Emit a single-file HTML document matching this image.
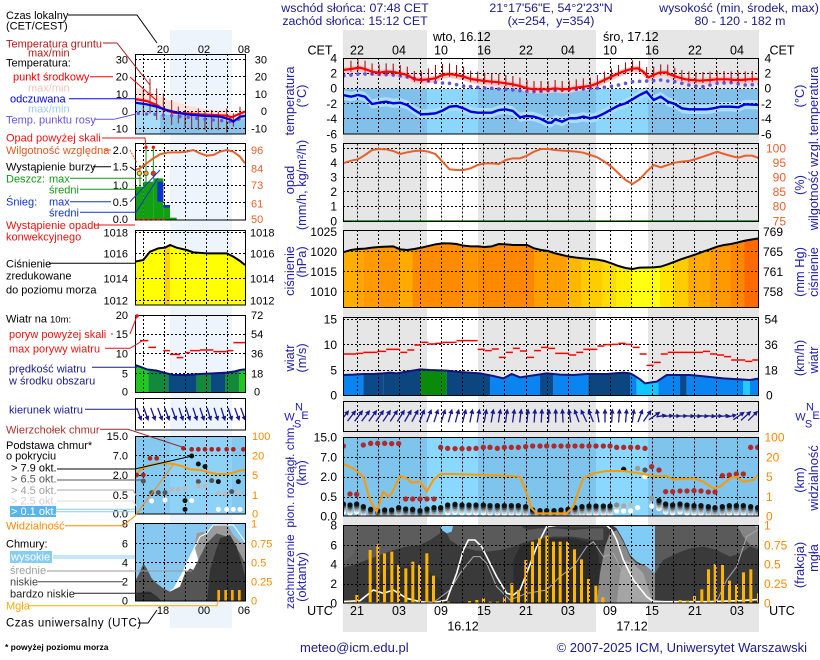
<!DOCTYPE html>
<html><head><meta charset="utf-8">
<style>
html,body{margin:0;padding:0;background:#fff;}
svg{display:block;font-family:"Liberation Sans",Arial,sans-serif;}
.z *{vector-effect:non-scaling-stroke;}
.g{stroke:#000;stroke-width:1;stroke-dasharray:2 2;fill:none;}
.t{font-size:12px;fill:#000;}
.ti{font-size:12.8px;fill:#2020b0;}
.l{font-size:11px;}
.m{font-size:11px;fill:#000;}
</style></head><body>
<svg width="820" height="660" viewBox="0 0 820 660">
<defs>
<path id="v76" d="M357.5,0v76M378.5,0v76M399.5,0v76M420.5,0v76M441.5,0v76M462.5,0v76M483.5,0v76M504.5,0v76M526.5,0v76M547.5,0v76M568.5,0v76M589.5,0v76M610.5,0v76M631.5,0v76M652.5,0v76M673.5,0v76M694.5,0v76M716.5,0v76M737.5,0v76"/>
<path id="v78" d="M357.5,0v78M378.5,0v78M399.5,0v78M420.5,0v78M441.5,0v78M462.5,0v78M483.5,0v78M504.5,0v78M526.5,0v78M547.5,0v78M568.5,0v78M589.5,0v78M610.5,0v78M631.5,0v78M652.5,0v78M673.5,0v78M694.5,0v78M716.5,0v78M737.5,0v78"/>
<path id="v30" d="M357.5,0v30M378.5,0v30M399.5,0v30M420.5,0v30M441.5,0v30M462.5,0v30M483.5,0v30M504.5,0v30M526.5,0v30M547.5,0v30M568.5,0v30M589.5,0v30M610.5,0v30M631.5,0v30M652.5,0v30M673.5,0v30M694.5,0v30M716.5,0v30M737.5,0v30"/>
<path id="mv80" d="M143.5,0v80M164.5,0v80M185.5,0v80M206.5,0v80M227.5,0v80"/>
<path id="mv32" d="M143.5,0v32M164.5,0v32M185.5,0v32M206.5,0v32M227.5,0v32"/>
<g id="ar"><path d="M0,6.5V-4" stroke="#1a1a90" stroke-width="1.3" fill="none"/><path d="M0,-7.5L-2.5,-2.5L2.5,-2.5Z" fill="#1a1a90"/></g>
<g id="ars"><path d="M0,5V-2.5" stroke="#1a1a90" stroke-width="1.3" fill="none"/><path d="M0,-5.5L-2.3,-1L2.3,-1Z" fill="#1a1a90"/></g>
<g id="cl"><circle cy="24" r="8" fill="#fff"/><circle cy="18" r="8" fill="#ccc"/><circle cy="12" r="8" fill="#999"/><circle cy="6" r="8" fill="#555"/><circle cy="0" r="8" fill="#111"/></g>
<circle id="rd" r="8" fill="#b02a2a"/>
<ellipse id="dp" rx="5.1" ry="5.4" fill="#6655dd"/>
<clipPath id="cT"><rect x="343" y="58" width="416" height="76"/></clipPath>
<clipPath id="cP"><rect x="343" y="143" width="416" height="79"/></clipPath>
<clipPath id="cPr"><rect x="343" y="230" width="416" height="78"/></clipPath>
<clipPath id="cW"><rect x="343" y="317" width="416" height="79"/></clipPath>
<clipPath id="cD"><rect x="343" y="401" width="416" height="31"/></clipPath>
<clipPath id="cB"><rect x="343" y="437" width="416" height="79"/></clipPath>
<clipPath id="cC"><rect x="343" y="525" width="416" height="78"/></clipPath>
<clipPath id="mT"><rect x="135" y="54" width="110" height="80"/></clipPath>
<clipPath id="mP"><rect x="135" y="143" width="110" height="77"/></clipPath>
<clipPath id="mPr"><rect x="135" y="230" width="110" height="75"/></clipPath>
<clipPath id="mW"><rect x="135" y="315" width="110" height="78"/></clipPath>
<clipPath id="mB"><rect x="135" y="436" width="110" height="78"/></clipPath>
<clipPath id="mC"><rect x="135" y="523" width="110" height="78"/></clipPath>
<clipPath id="pp"><polygon points="207,352 230,345 250,342 270,341 290,338 310,336 350,334 370,343 390,345 410,342 430,338 470,328 490,325 510,325 530,327 550,332 570,334 590,334 610,336 630,334 650,327 670,328 690,330 730,330 750,340 770,345 790,348 810,355 830,360 850,365 870,368 890,370 910,372 930,374 950,378 970,385 990,393 1010,399 1030,402 1050,398 1090,397 1110,395 1130,388 1150,380 1170,372 1190,365 1210,358 1230,350 1250,343 1270,335 1290,330 1310,327 1330,322 1350,317 1370,313 1390,310 1390,520 207,520"/></clipPath>
<clipPath id="wp"><polygon points="0,45 10,45 40,44 70,42 100,42 130,40 150,38 170,40 200,35 240,28 270,30 320,32 360,36 420,40 460,48 490,55 515,42 540,52 580,46 620,40 660,44 700,45 740,42 800,42 850,38 870,40 880,45 900,58 915,70 950,65 980,45 1020,45 1050,45 1100,50 1150,55 1200,58 1230,60 1260,55 1260,110 0,110"/></clipPath>
<clipPath id="mwp"><polygon points="405,165 420,170 440,178 470,182 500,190 520,195 560,195 600,192 640,190 680,188 700,185 720,180 735,178 735,250 405,250"/></clipPath>
</defs>

<rect width="820" height="660" fill="#fff"/>
<!-- day/night bands -->
<rect x="343" y="30" width="84" height="602" fill="#e6e6e6"/>
<rect x="478" y="30" width="118" height="602" fill="#e6e6e6"/>
<rect x="648" y="30" width="111" height="602" fill="#e6e6e6"/>
<rect x="170" y="30" width="62" height="598" fill="#eef4fc"/>

<!-- header -->
<g font-size="12.4" fill="#1a1a8a" text-anchor="middle">
<text x="355" y="12">wschód słońca: 07:48 CET</text>
<text x="355" y="25">zachód słońca: 15:12 CET</text>
<text x="551" y="12">21°17'56"E, 54°2'23"N</text>
<text x="551" y="25">(x=254,&#160; y=354)</text>
<text x="739" y="12">wysokość (min, środek, max)</text>
<text x="740" y="25">80 - 120 - 182 m</text>
</g>
<g font-size="12.5" fill="#000">
<text x="433" y="41">wto, 16.12</text>
<text x="603" y="41">śro, 17.12</text>
</g>
<g font-size="12.5" fill="#000" text-anchor="middle">
<text x="320" y="54.5">CET</text><text x="782" y="54.5">CET</text>
<text x="357" y="54.5">22</text><text x="399" y="54.5">04</text><text x="441" y="54.5">10</text><text x="484" y="54.5">16</text><text x="526" y="54.5">22</text><text x="568" y="54.5">04</text><text x="610" y="54.5">10</text><text x="652" y="54.5">16</text><text x="695" y="54.5">22</text><text x="737" y="54.5">04</text>
<text x="320" y="615">UTC</text><text x="782" y="615">UTC</text>
<text x="357" y="615">21</text><text x="399" y="615">03</text><text x="441" y="615">09</text><text x="484" y="615">15</text><text x="526" y="615">21</text><text x="568" y="615">03</text><text x="610" y="615">09</text><text x="652" y="615">15</text><text x="695" y="615">21</text><text x="737" y="615">03</text>
<text x="463" y="630.5">16.12</text><text x="632" y="630.5">17.12</text>
</g>

<!-- ===== MAIN TEMPERATURE ===== -->
<g clip-path="url(#cT)">
<rect x="343" y="89" width="84" height="46" fill="#80c0ea"/>
<rect x="427" y="89" width="51" height="46" fill="#8ad6fc"/>
<rect x="478" y="89" width="118" height="46" fill="#80c0ea"/>
<rect x="596" y="89" width="52" height="46" fill="#8ad6fc"/>
<rect x="648" y="89" width="111" height="46" fill="#80c0ea"/>
<g class="z" transform="translate(270,0) scale(0.352,0.33333)">
<polygon fill="#f8c6c6" points="207,202 230,199 255,195 270,199 290,207 310,210 330,207 350,208 370,212 390,217 410,230 430,232 450,230 470,227 490,217 510,214 530,217 550,222 570,229 590,232 610,235 630,237 650,239 670,242 690,245 710,250 730,257 750,260 770,260 790,260 810,257 830,260 850,259 870,255 890,252 910,250 930,242 950,232 970,222 990,212 1010,204 1030,198 1045,197 1060,207 1075,224 1090,217 1105,210 1125,209 1140,217 1160,224 1180,230 1200,232 1220,234 1250,232 1270,230 1300,230 1320,232 1340,232 1360,230 1390,229 1390,249 1360,250 1340,252 1320,252 1300,250 1270,250 1250,252 1220,254 1200,252 1180,250 1160,244 1140,237 1125,229 1105,230 1090,237 1075,244 1060,227 1045,217 1030,218 1010,224 990,232 970,242 950,252 930,262 910,270 890,272 870,275 850,279 830,280 810,277 790,280 770,280 750,280 730,277 710,270 690,265 670,262 650,259 630,257 610,255 590,252 570,249 550,242 530,237 510,234 490,237 470,247 450,250 430,252 410,250 390,237 370,232 350,228 330,227 310,230 290,227 270,219 255,215 230,219 207,222"/>
<polygon fill="#a9defc" points="207,271 230,276 250,271 270,276 290,298 310,294 330,291 350,296 370,294 390,301 410,316 430,329 450,328 470,326 490,318 510,306 530,304 550,311 570,321 590,324 610,324 630,324 650,316 670,314 690,319 710,338 730,334 750,336 770,343 790,354 800,354 810,344 830,351 850,341 870,341 890,336 910,341 930,336 950,326 970,314 990,303 1010,296 1030,284 1050,271 1070,261 1090,286 1110,276 1130,291 1150,298 1170,311 1190,314 1210,314 1240,314 1260,311 1280,306 1310,306 1330,308 1350,299 1390,301 1390,329 1350,327 1330,336 1310,334 1280,334 1260,339 1240,342 1210,342 1190,342 1170,339 1150,326 1130,319 1110,304 1090,314 1070,289 1050,299 1030,312 1010,324 990,331 970,342 950,354 930,364 910,369 890,364 870,369 850,369 830,379 810,372 800,382 790,382 770,371 750,364 730,362 710,366 690,347 670,342 650,344 630,352 610,352 590,352 570,349 550,339 530,332 510,334 490,346 470,354 450,356 430,357 410,344 390,329 370,322 350,324 330,319 310,322 290,326 270,304 250,299 230,304 207,299"/>
</g>
<use href="#v76" y="58" class="g"/>
<path class="g" d="M343,73.5H759M343,88.5H759M343,103.5H759M343,118.5H759"/>
<g class="z" transform="translate(270,0) scale(0.352,0.33333)">
<use href="#dp" x="210" y="227"/><use href="#dp" x="230" y="225"/><use href="#dp" x="250" y="222"/><use href="#dp" x="270" y="222"/><use href="#dp" x="290" y="222"/><use href="#dp" x="310" y="223"/><use href="#dp" x="330" y="224"/><use href="#dp" x="350" y="225"/><use href="#dp" x="370" y="228"/><use href="#dp" x="390" y="231"/><use href="#dp" x="410" y="235"/><use href="#dp" x="430" y="240"/><use href="#dp" x="450" y="243"/><use href="#dp" x="470" y="247"/><use href="#dp" x="490" y="249"/><use href="#dp" x="510" y="250"/><use href="#dp" x="530" y="254"/><use href="#dp" x="550" y="258"/><use href="#dp" x="570" y="260"/><use href="#dp" x="590" y="262"/><use href="#dp" x="610" y="264"/><use href="#dp" x="630" y="265"/><use href="#dp" x="650" y="267"/><use href="#dp" x="670" y="268"/><use href="#dp" x="690" y="270"/><use href="#dp" x="710" y="272"/><use href="#dp" x="730" y="274"/><use href="#dp" x="750" y="275"/><use href="#dp" x="770" y="274"/><use href="#dp" x="790" y="272"/><use href="#dp" x="810" y="271"/><use href="#dp" x="830" y="270"/><use href="#dp" x="850" y="269"/><use href="#dp" x="870" y="268"/><use href="#dp" x="890" y="267"/><use href="#dp" x="910" y="265"/><use href="#dp" x="930" y="264"/><use href="#dp" x="950" y="262"/><use href="#dp" x="970" y="259"/><use href="#dp" x="990" y="255"/><use href="#dp" x="1010" y="250"/><use href="#dp" x="1030" y="245"/><use href="#dp" x="1050" y="244"/><use href="#dp" x="1070" y="243"/><use href="#dp" x="1090" y="242"/><use href="#dp" x="1110" y="240"/><use href="#dp" x="1130" y="243"/><use href="#dp" x="1150" y="245"/><use href="#dp" x="1170" y="250"/><use href="#dp" x="1190" y="255"/><use href="#dp" x="1210" y="258"/><use href="#dp" x="1230" y="260"/><use href="#dp" x="1250" y="255"/><use href="#dp" x="1270" y="250"/><use href="#dp" x="1290" y="249"/><use href="#dp" x="1310" y="248"/><use href="#dp" x="1330" y="252"/><use href="#dp" x="1350" y="255"/><use href="#dp" x="1370" y="254"/><use href="#dp" x="1390" y="252"/>
<path fill="none" stroke="#a00000" stroke-width="1" d="M230,182V215M250,179V212M270,182V215M290,190V223M310,193V226M330,190V223M350,191V224M370,195V228M390,200V233M410,213V246M430,215V248M450,205V246M470,195V243M490,192V233M510,190V230M530,195V233M550,200V238M570,212V245M590,215V248M610,218V251M630,220V253M650,222V255M670,225V258M690,228V261M710,233V266M730,240V273M750,243V276M770,243V276M790,243V276M810,240V273M830,243V276M850,242V275M870,238V271M890,235V268M910,233V266M930,225V258M950,215V248M970,205V238M990,195V228M1010,187V220M1030,181V214M1050,183V216M1070,201V234M1090,200V233M1110,193V226M1130,194V227M1150,203V236M1170,210V243M1190,214V247M1210,216V249M1230,216V249M1250,215V248M1270,213V246M1290,213V246M1310,214V247M1330,215V248M1350,214V247M1370,213V246"/>
<polyline fill="none" stroke="#ff0000" stroke-width="2.2" points="207,210 230,207 255,203 270,207 290,215 310,218 330,215 350,216 370,220 390,225 410,238 430,240 450,238 470,235 490,225 510,222 530,225 550,230 570,237 590,240 610,243 630,245 650,247 670,250 690,253 710,258 730,265 750,268 770,268 790,268 810,265 830,268 850,267 870,263 890,260 910,258 930,250 950,240 970,230 990,220 1010,212 1030,206 1045,205 1060,215 1075,232 1090,225 1105,218 1125,217 1140,225 1160,232 1180,238 1200,240 1220,242 1250,240 1270,238 1300,238 1320,240 1340,240 1360,238 1390,237"/>
<polyline fill="none" stroke="#0000dd" stroke-width="2.4" points="207,285 230,290 250,285 270,290 290,312 310,308 330,305 350,310 370,308 390,315 410,330 430,343 450,342 470,340 490,332 510,320 530,318 550,325 570,335 590,338 610,338 630,338 650,330 670,328 690,333 710,352 730,348 750,350 770,357 790,368 800,368 810,358 830,365 850,355 870,355 890,350 910,355 930,350 950,340 970,328 990,317 1010,310 1030,298 1050,285 1070,275 1090,300 1110,290 1130,305 1150,312 1170,325 1190,328 1210,328 1240,328 1260,325 1280,320 1310,320 1330,322 1350,313 1390,315"/>
</g>
</g>
<rect x="343.5" y="58.5" width="415" height="75.5" fill="none" stroke="#000"/>
<g class="t" text-anchor="end">
<text x="337" y="62.3">4</text><text x="337" y="77.5">2</text><text x="337" y="92.7">0</text><text x="337" y="107.9">-2</text><text x="337" y="123.1">-4</text><text x="337" y="138.3">-6</text>
</g>
<g class="t">
<text x="764.5" y="62.3">4</text><text x="764.5" y="77.5">2</text><text x="764.5" y="92.7">0</text><text x="761" y="107.9">-2</text><text x="761" y="123.1">-4</text><text x="761" y="138.3">-6</text>
</g>

<!-- ===== PRECIP / RH ===== -->
<g clip-path="url(#cP)">
<use href="#v78" y="143.5" class="g"/>
<path class="g" d="M343,148.5H759M343,162.5H759M343,177.5H759M343,191.5H759M343,206.5H759"/>
<g class="z" transform="translate(270,135) scale(0.352,0.33333)">
<polyline fill="none" stroke="#e8602c" stroke-width="2" points="207,85 230,77 250,73 270,60 290,45 310,42 330,43 350,48 370,57 390,52 410,48 430,47 450,50 470,57 490,80 510,103 530,105 550,105 570,100 590,90 610,85 630,85 650,87 670,75 690,70 710,70 730,62 750,50 770,42 790,42 810,45 830,47 850,48 870,50 890,53 910,60 930,67 950,80 970,95 990,115 1010,135 1030,147 1050,133 1070,110 1090,90 1110,97 1130,90 1150,83 1170,80 1190,78 1210,72 1230,65 1250,58 1270,50 1290,57 1310,63 1330,68 1350,62 1370,62 1390,70"/>
</g>
</g>
<line x1="343" y1="221" x2="759" y2="221" stroke="#0a8a0a" stroke-width="1.5"/>
<rect x="343.5" y="143.5" width="415" height="78" fill="none" stroke="#000"/>
<g class="t" text-anchor="end">
<text x="337" y="152.3">5</text><text x="337" y="166.9">4</text><text x="337" y="181.5">3</text><text x="337" y="196.1">2</text><text x="337" y="210.7">1</text><text x="337" y="225.3">0</text>
</g>
<g class="t" text-anchor="end" style="fill:#e8602c">
<text x="786" y="152.3">100</text><text x="786" y="166.9">95</text><text x="786" y="181.5">90</text><text x="786" y="196.1">85</text><text x="786" y="210.7">80</text><text x="786" y="225.3">75</text>
</g>

<!-- ===== PRESSURE ===== -->
<g clip-path="url(#cPr)">
<g transform="translate(270,135) scale(0.352,0.33333)">
<g clip-path="url(#pp)">
<rect x="207" y="300" width="38" height="230" fill="#ffae00"/>
<rect x="245" y="300" width="20" height="230" fill="#ffa400"/>
<rect x="265" y="300" width="40" height="230" fill="#ff9a00"/>
<rect x="305" y="300" width="60" height="230" fill="#ff9600"/>
<rect x="365" y="300" width="40" height="230" fill="#ffaa00"/>
<rect x="405" y="300" width="140" height="230" fill="#ff8c00"/>
<rect x="545" y="300" width="45" height="230" fill="#ff9600"/>
<rect x="590" y="300" width="75" height="230" fill="#ff8a00"/>
<rect x="665" y="300" width="85" height="230" fill="#ff8800"/>
<rect x="750" y="300" width="95" height="230" fill="#ffa000"/>
<rect x="845" y="300" width="40" height="230" fill="#ffb800"/>
<rect x="885" y="300" width="60" height="230" fill="#ffcc00"/>
<rect x="945" y="300" width="40" height="230" fill="#ffdd00"/>
<rect x="985" y="300" width="45" height="230" fill="#ffee00"/>
<rect x="1030" y="300" width="78" height="230" fill="#ffff10"/>
<rect x="1108" y="300" width="40" height="230" fill="#ffe400"/>
<rect x="1148" y="300" width="40" height="230" fill="#ffcc00"/>
<rect x="1188" y="300" width="60" height="230" fill="#ffaa00"/>
<rect x="1248" y="300" width="60" height="230" fill="#ff9900"/>
<rect x="1308" y="300" width="40" height="230" fill="#ff8800"/>
<rect x="1348" y="300" width="42" height="230" fill="#ff6a00"/>
</g>
</g>
<use href="#v78" y="230" class="g"/>
<path class="g" d="M343,251.5H759M343,271.5H759M343,291.5H759"/>
<g class="z" transform="translate(270,135) scale(0.352,0.33333)">
<polyline fill="none" stroke="#000" stroke-width="2" points="207,352 230,345 250,342 270,341 290,338 310,336 350,334 370,343 390,345 410,342 430,338 470,328 490,325 510,325 530,327 550,332 570,334 590,334 610,336 630,334 650,327 670,328 690,330 730,330 750,340 770,345 790,348 810,355 830,360 850,365 870,368 890,370 910,372 930,374 950,378 970,385 990,393 1010,399 1030,402 1050,398 1090,397 1110,395 1130,388 1150,380 1170,372 1190,365 1210,358 1230,350 1250,343 1270,335 1290,330 1310,327 1330,322 1350,317 1370,313 1390,310"/>
</g>
</g>
<rect x="343.5" y="230.5" width="415" height="77" fill="none" stroke="#000"/>
<g class="t" text-anchor="end">
<text x="337" y="236">1025</text><text x="337" y="256">1020</text><text x="337" y="276">1015</text><text x="337" y="296">1010</text>
</g>
<g class="t">
<text x="763" y="236">769</text><text x="763" y="256">765</text><text x="763" y="276">761</text><text x="763" y="296">758</text>
</g>

<!-- ===== WIND ===== -->
<g clip-path="url(#cW)">
<g transform="translate(340,360) scale(0.33333)">
<g clip-path="url(#wp)">
<rect x="0" y="20" width="70" height="90" fill="#0a84f0"/>
<rect x="70" y="20" width="60" height="90" fill="#0a4a8a"/>
<rect x="130" y="20" width="110" height="90" fill="#0c4680"/>
<rect x="240" y="20" width="80" height="90" fill="#0a8a0a"/>
<rect x="320" y="20" width="130" height="90" fill="#0c4680"/>
<rect x="450" y="20" width="150" height="90" fill="#0a84f0"/>
<rect x="600" y="20" width="40" height="90" fill="#0a4a8a"/>
<rect x="640" y="20" width="105" height="90" fill="#0a84f0"/>
<rect x="745" y="20" width="125" height="90" fill="#0c4680"/>
<rect x="870" y="20" width="20" height="90" fill="#0a84f0"/>
<rect x="890" y="20" width="65" height="90" fill="#10c8ff"/>
<rect x="955" y="20" width="65" height="90" fill="#0a84f0"/>
<rect x="1020" y="20" width="20" height="90" fill="#0a4a8a"/>
<rect x="1040" y="20" width="170" height="90" fill="#0a84f0"/>
<rect x="1210" y="20" width="20" height="90" fill="#20ccff"/>
<rect x="1230" y="20" width="30" height="90" fill="#0a84f0"/>
</g>
</g>
<use href="#v78" y="317" class="g"/>
<path class="g" d="M343,319.5H759M343,344.5H759M343,370.5H759"/>
<g class="z" transform="translate(340,360) scale(0.33333)">
<polyline fill="none" stroke="#14147a" stroke-width="2" points="0,45 10,45 40,44 70,42 100,42 130,40 150,38 170,40 200,35 240,28 270,30 320,32 360,36 420,40 460,48 490,55 515,42 540,52 580,46 620,40 660,44 700,45 740,42 800,42 850,38 870,40 880,45 900,58 915,70 950,65 980,45 1020,45 1050,45 1100,50 1150,55 1200,58 1230,60 1260,55"/>
</g>
<g class="z" transform="translate(270,310) scale(0.352,0.33333)">
<path fill="none" stroke="#ff0000" stroke-width="1.5" d="M207,132H245M245,130H265M265,127H305M305,124H330M330,118H370M370,127H390M390,120H410M410,105H430M430,97H450M450,102H470M470,100H490M490,97H530M530,92H590M590,118H610M610,122H630M630,117H650M650,142H670M670,127H690M690,115H710M710,123H730M730,142H750M750,122H770M770,112H790M790,115H810M810,130H850M850,135H870M870,127H890M890,118H930M930,108H950M950,104H970M970,103H990M990,100H1010M1010,103H1030M1030,112H1050M1050,132H1070M1070,166H1090M1090,157H1110M1110,132H1130M1130,127H1230M1230,124H1250M1250,132H1270M1270,135H1290M1290,140H1310M1310,150H1350M1350,154H1370M1370,150H1390"/>
</g>
</g>
<rect x="343.5" y="317.5" width="415" height="78" fill="none" stroke="#000"/>
<g class="t" text-anchor="end">
<text x="337" y="323.6">15</text><text x="337" y="349">10</text><text x="337" y="374.3">5</text><text x="337" y="399.6">0</text>
</g>
<g class="t">
<text x="764.5" y="323.6">54</text><text x="764.5" y="349">36</text><text x="764.5" y="374.3">18</text><text x="766" y="399.6">0</text>
</g>

<!-- ===== WIND DIRECTION ===== -->
<g clip-path="url(#cD)">
<use href="#v30" y="401" class="g"/>
<use href="#ar" transform="translate(344.5,416) rotate(38)"/><use href="#ar" transform="translate(351.5,416) rotate(38)"/><use href="#ar" transform="translate(358.6,416) rotate(37)"/><use href="#ar" transform="translate(365.6,416) rotate(37)"/><use href="#ar" transform="translate(372.7,416) rotate(36)"/><use href="#ar" transform="translate(379.7,416) rotate(35)"/><use href="#ar" transform="translate(386.7,416) rotate(34)"/><use href="#ar" transform="translate(393.8,416) rotate(33)"/><use href="#ar" transform="translate(400.8,416) rotate(32)"/><use href="#ar" transform="translate(407.9,416) rotate(30)"/><use href="#ar" transform="translate(414.9,416) rotate(28)"/><use href="#ar" transform="translate(421.9,416) rotate(22)"/><use href="#ar" transform="translate(429,416) rotate(20)"/><use href="#ar" transform="translate(436,416) rotate(18)"/><use href="#ar" transform="translate(443.1,416) rotate(18)"/><use href="#ar" transform="translate(450.1,416) rotate(16)"/><use href="#ar" transform="translate(457.1,416) rotate(15)"/><use href="#ar" transform="translate(464.2,416) rotate(14)"/><use href="#ar" transform="translate(471.2,416) rotate(12)"/><use href="#ar" transform="translate(478.3,416) rotate(10)"/><use href="#ar" transform="translate(485.3,416) rotate(10)"/><use href="#ar" transform="translate(492.3,416) rotate(10)"/><use href="#ar" transform="translate(499.4,416) rotate(9)"/><use href="#ar" transform="translate(506.4,416) rotate(8)"/><use href="#ar" transform="translate(513.5,416) rotate(8)"/><use href="#ar" transform="translate(520.5,416) rotate(7)"/><use href="#ar" transform="translate(527.5,416) rotate(5)"/><use href="#ar" transform="translate(534.6,416) rotate(4)"/><use href="#ar" transform="translate(541.6,416) rotate(3)"/><use href="#ar" transform="translate(548.7,416) rotate(2)"/><use href="#ar" transform="translate(555.7,416) rotate(0)"/><use href="#ar" transform="translate(562.7,416) rotate(-3)"/><use href="#ar" transform="translate(569.8,416) rotate(-8)"/><use href="#ar" transform="translate(576.8,416) rotate(-20)"/><use href="#ar" transform="translate(583.9,416) rotate(-25)"/><use href="#ar" transform="translate(590.9,416) rotate(-22)"/><use href="#ar" transform="translate(597.9,416) rotate(-10)"/><use href="#ar" transform="translate(605,416) rotate(0)"/><use href="#ar" transform="translate(612,416) rotate(3)"/><use href="#ar" transform="translate(619.1,416) rotate(4)"/><use href="#ar" transform="translate(626.1,416) rotate(5)"/><use href="#ar" transform="translate(633.1,416) rotate(8)"/><use href="#ar" transform="translate(640.2,416) rotate(20)"/><use href="#ar" transform="translate(647.2,416) rotate(35)"/><use href="#ar" transform="translate(654.3,416) rotate(55)"/>
<use href="#ars" transform="translate(661.3,416) rotate(80)"/><use href="#ars" transform="translate(668.3,416) rotate(85)"/><use href="#ars" transform="translate(675.4,416) rotate(90)"/><use href="#ars" transform="translate(682.4,416) rotate(90)"/><use href="#ars" transform="translate(689.5,416) rotate(92)"/><use href="#ars" transform="translate(696.5,416) rotate(95)"/><use href="#ars" transform="translate(703.5,416) rotate(95)"/><use href="#ars" transform="translate(710.6,416) rotate(95)"/><use href="#ars" transform="translate(717.6,416) rotate(90)"/><use href="#ars" transform="translate(724.6,416) rotate(85)"/><use href="#ars" transform="translate(731.7,416) rotate(75)"/><use href="#ar" transform="translate(738.7,416) rotate(55)"/><use href="#ar" transform="translate(745.8,416) rotate(48)"/><use href="#ar" transform="translate(752.8,416) rotate(45)"/>
</g>
<rect x="343.5" y="401.5" width="415" height="30" fill="none" stroke="#000"/>
<g font-size="11" fill="#2020b0" text-anchor="middle">
<text x="299" y="410.7">N</text><text x="289.5" y="420.5">W</text><text x="305" y="419">E</text><text x="297.5" y="427.5">S</text>
<text x="810" y="410.7">N</text><text x="800.5" y="420.5">W</text><text x="816" y="419">E</text><text x="808.5" y="427.5">S</text>
</g>

<!-- ===== CLOUD BASE / VISIBILITY ===== -->
<g clip-path="url(#cB)">
<rect x="343" y="437" width="84" height="79" fill="#7ec4ec"/>
<rect x="427" y="437" width="51" height="79" fill="#8ad8ff"/>
<rect x="478" y="437" width="118" height="79" fill="#7ec4ec"/>
<rect x="596" y="437" width="52" height="79" fill="#8ad8ff"/>
<rect x="648" y="437" width="111" height="79" fill="#7ec4ec"/>
<use href="#v78" y="437.5" class="g"/>
<path class="g" d="M343,457.5H759M343,477.5H759M343,497.5H759"/>
<g class="z" transform="translate(340,360) scale(0.33333)">
<use href="#cl" x="10" y="432"/><use href="#cl" x="30" y="435"/><use href="#cl" x="50" y="432"/><use href="#cl" x="70" y="440"/><use href="#cl" x="92" y="448"/><use href="#cl" x="113" y="452"/><use href="#cl" x="134" y="450"/><use href="#cl" x="155" y="450"/><use href="#cl" x="176" y="443"/><use href="#cl" x="197" y="447"/><use href="#cl" x="218" y="448"/><use href="#cl" x="240" y="452"/><use href="#cl" x="261" y="447"/><use href="#cl" x="282" y="443"/><use href="#cl" x="302" y="443"/><use href="#cl" x="323" y="435"/><use href="#cl" x="345" y="433"/><use href="#cl" x="366" y="435"/><use href="#cl" x="387" y="435"/><use href="#cl" x="408" y="435"/><use href="#cl" x="430" y="435"/><use href="#cl" x="450" y="437"/><use href="#cl" x="472" y="437"/><use href="#cl" x="493" y="437"/><use href="#cl" x="514" y="437"/><use href="#cl" x="535" y="437"/><use href="#cl" x="557" y="440"/><use href="#cl" x="578" y="450"/><use href="#cl" x="600" y="452"/><use href="#cl" x="620" y="452"/><use href="#cl" x="642" y="452"/><use href="#cl" x="663" y="450"/><use href="#cl" x="684" y="448"/><use href="#cl" x="705" y="443"/><use href="#cl" x="726" y="440"/><use href="#cl" x="747" y="438"/><use href="#cl" x="768" y="438"/><use href="#cl" x="790" y="438"/><use href="#cl" x="810" y="438"/>
<circle cx="830" cy="453" r="8" fill="#fff"/><circle cx="830" cy="441" r="8" fill="#ccc"/><circle cx="830" cy="435" r="8" fill="#888"/>
<circle cx="851" cy="453" r="8" fill="#fff"/><circle cx="851" cy="438" r="8" fill="#aaa"/>
<circle cx="872" cy="453" r="8" fill="#fff"/><circle cx="872" cy="435" r="8" fill="#bbb"/>
<circle cx="893" cy="443" r="8" fill="#fff"/>
<circle cx="935" cy="438" r="8" fill="#fff"/><circle cx="935" cy="415" r="8" fill="#999"/>
<circle cx="851" cy="328" r="8" fill="#111"/><circle cx="893" cy="325" r="8" fill="#999"/><circle cx="915" cy="350" r="8" fill="#fff"/><circle cx="915" cy="330" r="8" fill="#555"/>
<use href="#cl" x="957" y="422"/><use href="#cl" x="977" y="432"/><use href="#cl" x="998" y="435"/><use href="#cl" x="1020" y="432"/><use href="#cl" x="1041" y="435"/><use href="#cl" x="1062" y="437"/><use href="#cl" x="1083" y="437"/><use href="#cl" x="1105" y="440"/><use href="#cl" x="1125" y="443"/><use href="#cl" x="1147" y="440"/><use href="#cl" x="1168" y="437"/><use href="#cl" x="1189" y="437"/><use href="#cl" x="1210" y="437"/><use href="#cl" x="1232" y="440"/><use href="#cl" x="1253" y="443"/>
<use href="#rd" x="10" y="258"/><use href="#rd" x="30" y="402"/><use href="#rd" x="50" y="403"/><use href="#rd" x="70" y="255"/><use href="#rd" x="92" y="250"/><use href="#rd" x="113" y="250"/><use href="#rd" x="134" y="250"/><use href="#rd" x="155" y="251"/><use href="#rd" x="176" y="251"/><use href="#rd" x="197" y="417"/><use href="#rd" x="218" y="417"/><use href="#rd" x="240" y="417"/><use href="#rd" x="261" y="417"/><use href="#rd" x="282" y="417"/><use href="#rd" x="302" y="262"/><use href="#rd" x="323" y="265"/><use href="#rd" x="345" y="266"/><use href="#rd" x="366" y="266"/><use href="#rd" x="387" y="266"/><use href="#rd" x="408" y="265"/><use href="#rd" x="430" y="262"/><use href="#rd" x="450" y="262"/><use href="#rd" x="472" y="265"/><use href="#rd" x="493" y="262"/><use href="#rd" x="514" y="262"/><use href="#rd" x="535" y="262"/><use href="#rd" x="557" y="260"/><use href="#rd" x="578" y="258"/><use href="#rd" x="600" y="258"/><use href="#rd" x="620" y="258"/><use href="#rd" x="642" y="258"/><use href="#rd" x="663" y="258"/><use href="#rd" x="684" y="258"/><use href="#rd" x="705" y="258"/><use href="#rd" x="726" y="258"/><use href="#rd" x="747" y="258"/><use href="#rd" x="768" y="258"/><use href="#rd" x="790" y="258"/><use href="#rd" x="810" y="258"/><use href="#rd" x="830" y="262"/><use href="#rd" x="851" y="262"/><use href="#rd" x="872" y="262"/><use href="#rd" x="893" y="262"/><use href="#rd" x="915" y="265"/><use href="#rd" x="935" y="320"/><use href="#rd" x="957" y="330"/><use href="#rd" x="977" y="395"/><use href="#rd" x="998" y="395"/><use href="#rd" x="1020" y="393"/><use href="#rd" x="1041" y="393"/><use href="#rd" x="1062" y="392"/><use href="#rd" x="1083" y="393"/><use href="#rd" x="1105" y="396"/><use href="#rd" x="1125" y="396"/><use href="#rd" x="1147" y="347"/><use href="#rd" x="1168" y="345"/><use href="#rd" x="1189" y="342"/><use href="#rd" x="1210" y="342"/><use href="#rd" x="1232" y="262"/><use href="#rd" x="1253" y="262"/>
<polyline fill="none" stroke="#ff9900" stroke-width="2" points="0,310 10,312 40,325 70,350 90,420 110,455 130,395 145,410 155,400 180,348 200,355 215,368 240,365 260,395 280,360 300,342 340,342 400,344 490,347 540,350 560,400 575,445 590,460 680,460 700,440 720,380 730,355 760,340 800,333 850,333 900,340 940,348 980,348 1000,358 1060,355 1090,365 1120,385 1140,380 1170,355 1190,350 1210,365 1240,360 1255,345 1260,343"/>
</g>
</g>
<rect x="343.5" y="437.5" width="415" height="78.5" fill="none" stroke="#000"/>
<g class="t" text-anchor="end">
<text x="337" y="441.6">15.0</text><text x="337" y="461.3">7.0</text><text x="337" y="481">2.0</text><text x="337" y="501">0.5</text><text x="337" y="520.3">0.0</text>
</g>
<g class="t" style="fill:#ff8800">
<text x="764.5" y="441.6">100</text><text x="766" y="461.3">20</text><text x="766" y="481">5</text><text x="766" y="501">1</text><text x="766" y="520.3">0</text>
</g>

<!-- ===== CLOUDS / FOG ===== -->
<g clip-path="url(#cC)">
<rect x="343" y="525" width="416" height="78" fill="#3a3a3a"/>
<g class="z" transform="translate(340,360) scale(0.33333)">
<polygon fill="#5c5c5c" points="0,495 300,495 300,520 270,540 240,555 200,560 160,570 120,585 80,600 40,615 0,625"/>
<polygon fill="#646464" points="0,495 60,495 55,540 40,580 20,600 0,610"/>
<polygon fill="#5a5a5a" points="340,495 540,495 560,510 600,505 650,505 700,510 760,505 790,505 790,540 760,540 700,530 640,530 600,535 560,545 520,560 480,570 440,575 400,570 360,560 330,540 320,520"/>
<polygon fill="#2c2c2c" points="520,730 520,600 540,560 580,545 640,535 700,535 740,545 770,560 780,620 770,730"/>
<polygon fill="#2f2f2f" points="80,730 100,660 140,630 200,620 260,630 300,660 320,730"/>
<polygon fill="#5a5a5a" points="945,495 1260,495 1260,570 1230,560 1200,580 1170,590 1130,570 1090,560 1050,565 1010,580 970,600 945,640"/>
<polygon fill="#858585" points="1190,495 1260,495 1260,560 1230,555 1210,530"/>
<polygon fill="#8a8a8a" points="770,730 780,640 795,560 810,520 830,510 850,545 870,590 890,610 920,620 945,640 945,730"/>
<polygon fill="#a5a5a5" points="830,730 840,640 855,600 880,610 910,640 930,700 940,730"/>
<polygon fill="#80ccf6" points="300,495 340,495 335,515 320,520 305,510"/>
<polygon fill="#80ccf6" points="815,495 945,495 945,640 920,620 890,605 870,585 850,540 830,505"/>
<polygon fill="#80ccf6" points="1235,495 1260,495 1260,505"/>
<polyline fill="none" stroke="#aaaaaa" stroke-width="1" points="0,728 280,728 330,690 360,640 400,590 420,590 440,610 470,680 510,720 560,700 620,690 660,650 700,620 740,560 760,545 790,590 820,580 850,640 880,700 920,720 980,725 1130,725 1160,660 1190,620 1220,530 1260,505"/>
<polyline fill="none" stroke="#ffffff" stroke-width="1.6" points="0,725 60,722 100,690 130,700 160,690 200,715 240,725 280,728 320,720 350,640 370,570 385,540 405,540 425,560 440,590 470,650 500,700 520,705 540,690 560,640 590,560 620,500 650,496 800,496 815,510 830,540 850,600 880,660 920,710 940,725 1100,725 1200,722 1260,718"/>
<g fill="#ffb400">
<rect x="24" y="725" width="9" height="10"/><rect x="46" y="705" width="9" height="30"/><rect x="86" y="570" width="9" height="165"/><rect x="109" y="553" width="9" height="182"/><rect x="129" y="580" width="9" height="155"/><rect x="151" y="575" width="9" height="160"/><rect x="171" y="615" width="9" height="120"/><rect x="193" y="625" width="9" height="110"/><rect x="214" y="605" width="9" height="130"/><rect x="234" y="615" width="9" height="120"/><rect x="256" y="580" width="9" height="155"/><rect x="276" y="647" width="9" height="88"/><rect x="301" y="725" width="9" height="10"/><rect x="321" y="725" width="9" height="10"/>
<rect x="384" y="723" width="9" height="12"/><rect x="406" y="720" width="9" height="15"/><rect x="426" y="715" width="9" height="20"/><rect x="446" y="725" width="9" height="10"/><rect x="468" y="725" width="9" height="10"/><rect x="489" y="712" width="9" height="23"/><rect x="511" y="670" width="9" height="65"/><rect x="531" y="690" width="9" height="45"/><rect x="553" y="600" width="9" height="135"/><rect x="573" y="545" width="9" height="190"/><rect x="594" y="535" width="9" height="200"/><rect x="616" y="527" width="9" height="208"/><rect x="636" y="545" width="9" height="190"/><rect x="656" y="545" width="9" height="190"/><rect x="678" y="545" width="9" height="190"/><rect x="699" y="568" width="9" height="167"/><rect x="720" y="598" width="9" height="137"/><rect x="741" y="657" width="9" height="78"/><rect x="763" y="677" width="9" height="58"/><rect x="784" y="712" width="9" height="23"/>
<rect x="1016" y="720" width="9" height="15"/><rect x="1038" y="722" width="9" height="13"/><rect x="1059" y="708" width="9" height="27"/><rect x="1081" y="688" width="9" height="47"/><rect x="1101" y="628" width="9" height="107"/><rect x="1121" y="612" width="9" height="123"/><rect x="1143" y="615" width="9" height="120"/><rect x="1164" y="662" width="9" height="73"/><rect x="1185" y="673" width="9" height="62"/><rect x="1206" y="637" width="9" height="98"/><rect x="1228" y="628" width="9" height="107"/><rect x="1251" y="700" width="9" height="35"/>
</g>
</g>
<use href="#v78" y="525" class="g"/>
<path class="g" d="M343,545.5H759M343,564.5H759M343,584.5H759"/>
</g>
<rect x="343.5" y="525.5" width="415" height="77.5" fill="none" stroke="#000"/>
<g class="t" text-anchor="end">
<text x="337" y="529.6">8</text><text x="337" y="549.3">6</text><text x="337" y="568.6">4</text><text x="337" y="588">2</text><text x="337" y="607.3">0</text>
</g>
<g class="t" style="fill:#ff8800">
<text x="764" y="529.6">1</text><text x="764" y="549.3">0.75</text><text x="764" y="568.6">0.5</text><text x="764" y="588">0.25</text><text x="764" y="607.3">0</text>
</g>

<!-- rotated axis titles -->
<g class="ti" text-anchor="middle">
<text transform="translate(294,101) rotate(-90)">temperatura</text>
<text transform="translate(306,96) rotate(-90)">(°C)</text>
<text transform="translate(804,96) rotate(-90)">(°C)</text>
<text transform="translate(818,101) rotate(-90)">temperatura</text>
<text transform="translate(294,180) rotate(-90)">opad</text>
<text transform="translate(306,185) rotate(-90)">(mm/h, kg/m²/h)</text>
<text transform="translate(804,185) rotate(-90)">(%)</text>
<text transform="translate(818,184) rotate(-90)">wilgotność wzgl.</text>
<text transform="translate(294,271) rotate(-90)">ciśnienie</text>
<text transform="translate(306,262) rotate(-90)">(hPa)</text>
<text transform="translate(804,272) rotate(-90)">(mm Hg)</text>
<text transform="translate(818,272) rotate(-90)">ciśnienie</text>
<text transform="translate(294,358) rotate(-90)">wiatr</text>
<text transform="translate(306,358) rotate(-90)">(m/s)</text>
<text transform="translate(804,358) rotate(-90)">(km/h)</text>
<text transform="translate(818,360) rotate(-90)">wiatr</text>
<text transform="translate(306,473) rotate(-90)">(km)</text>
<text transform="translate(306,577) rotate(-90)">(oktanty)</text>
<text transform="translate(804,480) rotate(-90)">(km)</text>
<text transform="translate(818,478) rotate(-90)">widzialność</text>
<text transform="translate(804,565) rotate(-90)">(frakcja)</text>
<text transform="translate(818,558) rotate(-90)">mgła</text>
</g>
<text transform="translate(294,609) rotate(-90)" font-size="12" fill="#2020b0">zachmurzenie&#160; pion. rozciągł. chm.</text>

<!-- footer -->
<text x="300" y="652" font-size="13" fill="#1a1a8a">meteo@icm.edu.pl</text>
<text x="807" y="652" font-size="13" fill="#1a1a8a" text-anchor="end">© 2007-2025 ICM, Uniwersytet Warszawski</text>

<!-- ===================== MINI LEGEND CHART ===================== -->
<g class="m" text-anchor="middle">
<text x="163" y="53">20</text><text x="204" y="53">02</text><text x="244" y="53">08</text>
<text x="163" y="614">18</text><text x="204" y="614">00</text><text x="244" y="614">06</text>
</g>

<!-- mini temperature -->
<g clip-path="url(#mT)">
<g class="z" transform="scale(0.33333)">
<polygon fill="#fde0d8" points="405,262 440,270 480,290 520,305 560,315 600,325 640,330 680,330 700,345 735,330 735,340 710,350 695,357 680,352 640,350 600,348 560,345 520,343 490,333 470,320 440,308 405,302"/>
<polygon fill="#a8dcf8" points="405,300 440,308 470,318 500,328 540,335 580,340 620,343 660,345 690,352 700,358 720,345 735,340 735,410 405,410"/>
<polygon fill="#86c4ec" points="480,345 540,345 600,352 650,356 700,368 735,355 735,410 480,410"/>
<path fill="none" stroke="#a01818" stroke-width="1" d="M430,270V345M450,235V340M470,265V360M490,280V360M515,300V375M535,320V370M555,330V380M575,335V385M595,325V390M615,335V390M635,330V390M655,335V390M680,325V398M700,340V380M720,320V360"/>
</g>
<use href="#mv80" y="54" class="g"/>
<path class="g" d="M135,59.5H245M135,76.5H245M135,94.5H245M135,111.5H245M135,128.5H245"/>
<g class="z" transform="scale(0.33333)">
<g fill="#6655dd"><circle cx="415" cy="340" r="5"/><circle cx="440" cy="342" r="5"/><circle cx="465" cy="343" r="5"/><circle cx="490" cy="345" r="5"/><circle cx="515" cy="347" r="5"/><circle cx="540" cy="350" r="5"/><circle cx="565" cy="352" r="5"/><circle cx="590" cy="355" r="5"/><circle cx="615" cy="358" r="5"/><circle cx="640" cy="360" r="5"/><circle cx="665" cy="362" r="5"/><circle cx="690" cy="365" r="5"/><circle cx="715" cy="358" r="5"/></g>
<polyline fill="none" stroke="#ff0000" stroke-width="2.2" points="405,297 440,303 470,315 490,328 520,338 560,340 600,343 640,345 680,347 695,352 710,345 735,335"/>
<polyline fill="none" stroke="#0000dd" stroke-width="2.2" points="405,308 440,313 470,320 500,330 540,340 580,345 620,348 660,350 690,358 700,365 720,350 735,348"/>
</g>
</g>
<rect x="135.5" y="54.5" width="110" height="79.5" fill="none" stroke="#000"/>
<g class="m" text-anchor="end">
<text x="128" y="63.3">30</text><text x="128" y="80.7">20</text><text x="128" y="98">10</text><text x="128" y="115">0</text><text x="128" y="132.3">-10</text>
<text x="267" y="63.3">30</text><text x="267" y="80.7">20</text><text x="267" y="98">10</text><text x="267" y="115">0</text><text x="267" y="132.3">-10</text>
</g>

<!-- mini precip -->
<g clip-path="url(#mP)">
<use href="#mv80" y="143" class="g"/>
<path class="g" d="M135,150.5H245M135,166.5H245M135,185.5H245M135,202.5H245"/>
<g class="z" transform="translate(0,135) scale(0.33333)">
<g fill="#11a011"><rect x="405" y="155" width="25" height="100"/><rect x="430" y="140" width="30" height="115"/><rect x="460" y="130" width="30" height="125"/><rect x="490" y="210" width="20" height="45"/><rect x="510" y="248" width="20" height="7"/></g>
<g fill="#1030d0"><rect x="472" y="140" width="18" height="60"/><rect x="490" y="210" width="20" height="8"/></g>
<path fill="none" stroke="#119911" stroke-width="1" d="M420,90V155M438,38V140M460,38V130"/>
<polyline fill="none" stroke="#e8602c" stroke-width="2" points="405,105 420,100 440,85 460,70 480,58 500,53 520,52 540,52 560,50 580,45 600,55 620,62 640,60 660,50 680,45 700,50 720,65 735,85"/>
<g fill="#ee1111"><circle cx="438" cy="37" r="5"/><circle cx="460" cy="37" r="5"/></g>
<circle cx="418" cy="115" r="6.5" fill="#ffe000" stroke="#555" stroke-width="1"/>
<circle cx="438" cy="115" r="6.5" fill="#ffaa00" stroke="#555" stroke-width="1"/>
<circle cx="460" cy="115" r="6.5" fill="#ee3300" stroke="#555" stroke-width="1"/>
</g>
</g>
<rect x="135.5" y="143.5" width="110" height="76.5" fill="none" stroke="#000"/>
<line x1="137" y1="219.5" x2="166" y2="219.5" stroke="#ee1111" stroke-width="1.5" stroke-dasharray="3 2"/>
<g class="m" text-anchor="end">
<text x="128" y="154">2.0</text><text x="128" y="170.7">1.5</text><text x="128" y="189">1.0</text><text x="128" y="206">0.5</text><text x="128" y="223">0.0</text>
</g>
<g class="m" style="fill:#e8602c">
<text x="251" y="154">96</text><text x="251" y="172.3">84</text><text x="251" y="189">73</text><text x="251" y="207.3">61</text><text x="251" y="223">50</text>
</g>

<!-- mini pressure -->
<g clip-path="url(#mPr)">
<g class="z" transform="translate(0,135) scale(0.33333)">
<polygon fill="#ffff00" points="405,380 430,375 450,350 475,340 495,338 510,330 530,338 560,345 580,352 620,355 680,355 700,365 720,378 735,390 735,520 405,520"/>
<polygon fill="#ffd000" points="495,338 510,330 510,520 495,520"/>
</g>
<use href="#mv80" y="230" class="g"/>
<path class="g" d="M135,232.5H245M135,253.5H245M135,278.5H245M135,300.5H245"/>
<g class="z" transform="translate(0,135) scale(0.33333)">
<polyline fill="none" stroke="#000" stroke-width="2" points="405,380 430,375 450,350 475,340 495,338 510,330 530,338 560,345 580,352 620,355 680,355 700,365 720,378 735,390"/>
</g>
</g>
<rect x="135.5" y="230.5" width="110" height="74.5" fill="none" stroke="#000"/>
<g class="m" text-anchor="end">
<text x="128" y="236.3">1018</text><text x="128" y="257.3">1016</text><text x="128" y="282.3">1014</text><text x="128" y="304.7">1012</text>
</g>
<g class="m">
<text x="250" y="236.3">1018</text><text x="250" y="257.3">1016</text><text x="250" y="282.3">1014</text><text x="250" y="304.7">1012</text>
</g>

<!-- mini wind -->
<g clip-path="url(#mW)">
<g transform="translate(0,310) scale(0.33333)">
<g clip-path="url(#mwp)">
<rect x="405" y="150" width="40" height="100" fill="#1ec81e"/><rect x="445" y="150" width="60" height="100" fill="#128a3a"/><rect x="505" y="150" width="85" height="100" fill="#0a4a80"/><rect x="590" y="150" width="42" height="100" fill="#128a3a"/><rect x="632" y="150" width="43" height="100" fill="#0a4a80"/><rect x="675" y="150" width="43" height="100" fill="#128a3a"/><rect x="718" y="150" width="17" height="100" fill="#1ec81e"/>
</g>
</g>
<use href="#mv80" y="315" class="g"/>
<path class="g" d="M135,334.5H245M135,353.5H245M135,373.5H245"/>
<g class="z" transform="translate(0,310) scale(0.33333)">
<polyline fill="none" stroke="#101080" stroke-width="2" points="405,165 420,170 440,178 470,182 500,190 520,195 560,195 600,192 640,190 680,188 700,185 720,180 735,178"/>
<path fill="none" stroke="#ff0000" stroke-width="1.5" d="M420,92H445M445,112H468M490,122H510M510,133H540M530,143H550M555,128H570M570,122H600M600,120H640M640,125H680M680,122H700M700,98H735"/>
</g>
</g>
<rect x="135.5" y="315.5" width="110" height="77" fill="none" stroke="#000"/>
<g class="m" text-anchor="end">
<text x="128" y="319">20</text><text x="128" y="338">15</text><text x="128" y="357.3">10</text><text x="128" y="377.3">5</text><text x="128" y="395.7">0</text>
</g>
<g class="m">
<text x="251" y="319">72</text><text x="251" y="338">54</text><text x="251" y="357.3">36</text><text x="251" y="377.3">18</text><text x="254" y="395.7">0</text>
</g>

<!-- mini wind direction -->
<use href="#mv32" y="398" class="g"/>
<g>
<use href="#ar" transform="translate(139,414) rotate(160)"/><use href="#ar" transform="translate(146,414) rotate(160)"/><use href="#ar" transform="translate(153,414) rotate(160)"/><use href="#ar" transform="translate(160,414) rotate(160)"/><use href="#ar" transform="translate(167,414) rotate(160)"/><use href="#ar" transform="translate(174,414) rotate(160)"/><use href="#ar" transform="translate(181,414) rotate(162)"/><use href="#ar" transform="translate(188,414) rotate(162)"/><use href="#ar" transform="translate(195,414) rotate(162)"/><use href="#ar" transform="translate(202,414) rotate(162)"/><use href="#ar" transform="translate(209,414) rotate(163)"/><use href="#ar" transform="translate(216,414) rotate(163)"/><use href="#ar" transform="translate(223,414) rotate(163)"/><use href="#ar" transform="translate(230,414) rotate(163)"/><use href="#ar" transform="translate(237,414) rotate(160)"/><use href="#ar" transform="translate(243,414) rotate(160)"/>
</g>
<rect x="135.5" y="398.5" width="110" height="31.5" fill="none" stroke="#000"/>

<!-- mini cloud base -->
<g clip-path="url(#mB)">
<rect x="135" y="436" width="110" height="78" fill="#84caf0"/>
<rect x="170" y="436" width="62" height="78" fill="#8ed2f8"/>
<use href="#mv80" y="436" class="g"/>
<path class="g" d="M135,455.5H245M135,475.5H245M135,495.5H245"/>
<g class="z" transform="translate(0,310) scale(0.33333)">
<polyline fill="none" stroke="#ff9900" stroke-width="2" points="405,500 420,480 440,468 460,463 480,460 500,460 520,462 545,468 570,478 600,480 630,488 650,492 680,492 700,488 720,482 735,480"/>
<g fill="#555"><circle cx="430" cy="513" r="7.5"/><circle cx="455" cy="548" r="7.5"/><circle cx="475" cy="548" r="7.5"/><circle cx="495" cy="548" r="7.5"/><circle cx="595" cy="515" r="7.5"/><circle cx="635" cy="512" r="7.5"/><circle cx="695" cy="545" r="7.5"/></g>
<g fill="#bbb"><circle cx="515" cy="538" r="7.5"/><circle cx="535" cy="538" r="7.5"/><circle cx="555" cy="535" r="7.5"/><circle cx="595" cy="528" r="7.5"/><circle cx="615" cy="528" r="7.5"/><circle cx="655" cy="550" r="7.5"/><circle cx="675" cy="550" r="7.5"/><circle cx="715" cy="548" r="7.5"/></g>
<g fill="#111"><circle cx="575" cy="438" r="7.5"/><circle cx="595" cy="462" r="7.5"/><circle cx="615" cy="470" r="7.5"/><circle cx="655" cy="515" r="7.5"/><circle cx="715" cy="515" r="7.5"/><circle cx="555" cy="572" r="7.5"/><circle cx="555" cy="598" r="7.5"/></g>
<g fill="#fff"><circle cx="455" cy="573" r="7.5"/><circle cx="495" cy="570" r="7.5"/><circle cx="575" cy="572" r="7.5"/><circle cx="655" cy="598" r="7.5"/><circle cx="680" cy="598" r="7.5"/><circle cx="700" cy="598" r="7.5"/><circle cx="720" cy="598" r="7.5"/></g>
<g fill="#aa2222"><circle cx="410" cy="495" r="7"/><circle cx="430" cy="495" r="7"/><circle cx="450" cy="445" r="7"/><circle cx="470" cy="445" r="7"/><circle cx="550" cy="415" r="7"/><circle cx="575" cy="418" r="7"/><circle cx="595" cy="418" r="7"/><circle cx="615" cy="418" r="7"/><circle cx="635" cy="418" r="7"/><circle cx="655" cy="418" r="7"/><circle cx="680" cy="418" r="7"/><circle cx="700" cy="418" r="7"/><circle cx="730" cy="418" r="7"/></g>
</g>
</g>
<rect x="135.5" y="436.5" width="110" height="77.5" fill="none" stroke="#000"/>
<g class="m" text-anchor="end">
<text x="128" y="440">15.0</text><text x="128" y="459.7">7.0</text><text x="128" y="479">2.0</text><text x="128" y="499">0.5</text><text x="128" y="517.3">0.0</text>
</g>
<g class="m" style="fill:#ff8800">
<text x="252" y="440">100</text><text x="252" y="459.7">20</text><text x="252" y="479">5</text><text x="252" y="499">1</text><text x="252" y="517.3">0</text>
</g>

<!-- mini clouds -->
<g clip-path="url(#mC)">
<g class="z" transform="translate(0,510) scale(0.33333)">
<rect x="405" y="40" width="330" height="240" fill="#86c8f0"/>
<polygon fill="#9a9a9a" points="560,280 575,200 580,140 590,70 610,65 620,75 640,45 680,40 700,75 720,95 735,100 735,280"/>
<polygon fill="#ffffff" points="500,250 520,235 545,190 560,160 575,130 585,115 595,150 590,280 500,280"/>
<polygon fill="#555" points="405,280 405,215 420,185 430,160 440,175 455,205 470,220 490,235 510,245 540,230 555,190 570,175 580,180 600,140 620,100 650,70 680,80 700,100 720,130 735,160 735,280"/>
<polygon fill="#333" points="405,280 405,255 430,245 450,245 470,258 490,280"/>
<polygon fill="#333" points="620,280 630,180 645,130 660,85 690,75 710,110 725,160 735,200 735,280"/>
<polyline fill="none" stroke="#fff" stroke-width="1" points="560,160 600,80 620,70 640,45 700,45 735,95"/>
<g fill="#ffaa00"><rect x="652" y="240" width="8" height="40"/><rect x="673" y="240" width="8" height="40"/><rect x="693" y="240" width="8" height="40"/><rect x="714" y="240" width="8" height="40"/></g>
</g>
<use href="#mv80" y="523" class="g"/>
<path class="g" d="M135,543.5H245M135,562.5H245M135,581.5H245"/>
</g>
<rect x="135.5" y="523.5" width="110" height="77.5" fill="none" stroke="#000"/>
<g class="m" text-anchor="end">
<text x="128" y="527.3">8</text><text x="128" y="547.3">6</text><text x="128" y="566.3">4</text><text x="128" y="585.7">2</text><text x="128" y="604.7">0</text>
</g>
<g class="m" style="fill:#ff8800">
<text x="251" y="527.3">1</text><text x="251" y="547.3">0.75</text><text x="251" y="566.3">0.5</text><text x="251" y="585.7">0.25</text><text x="251" y="604.7">0</text>
</g>

<!-- ===== LEFT LEGEND TEXT ===== -->
<g class="l">
<text x="6" y="19" fill="#000">Czas lokalny</text>
<text x="6" y="29.7" fill="#000">(CET/CEST)</text>
<text x="6" y="47.3" fill="#b01a1a">Temperatura gruntu</text>
<text x="28" y="56.7" fill="#b01a1a">max/min</text>
<text x="6" y="66.7" fill="#000">Temperatura:</text>
<text x="13" y="80.7" fill="#ff0000">punkt środkowy</text>
<text x="28" y="91.3" fill="#f4c4bc">max/min</text>
<text x="10" y="102.7" fill="#0000ee">odczuwana</text>
<text x="28" y="112.3" fill="#99ccee">max/min</text>
<text x="6" y="123.3" fill="#6655dd">Temp. punktu rosy</text>
<text x="6" y="141.5" fill="#ee1111">Opad powyżej skali</text>
<text x="6" y="154" fill="#e05a20">Wilgotność względna</text>
<text x="6" y="170.7" fill="#000">Wystąpienie burzy</text>
<text x="6" y="182.3" fill="#119911">Deszcz:</text>
<text x="49" y="182.3" fill="#119911">max</text>
<text x="49" y="193.3" fill="#119911">średni</text>
<text x="6" y="205.7" fill="#1133cc">Śnieg:</text>
<text x="49" y="205.7" fill="#1133cc">max</text>
<text x="49" y="216.3" fill="#1133cc">średni</text>
<text x="6" y="229" fill="#ee1111">Wystąpienie opadu</text>
<text x="6" y="240.7" fill="#ee1111">konwekcyjnego</text>
<text x="6" y="267.3" fill="#000">Ciśnienie</text>
<text x="6" y="279.7" fill="#000">zredukowane</text>
<text x="6" y="293.3" fill="#000">do poziomu morza</text>
<text x="6" y="322.3" fill="#000">Wiatr na <tspan font-size="9.5">10m:</tspan></text>
<text x="9" y="338" fill="#ee1111">poryw powyżej skali</text>
<text x="9" y="352.3" fill="#ee1111">max porywy wiatru</text>
<text x="9" y="372.3" fill="#1a1a8c">prędkość wiatru</text>
<text x="9" y="384.7" fill="#1a1a8c">w środku obszaru</text>
<text x="9" y="413.3" fill="#1a1a8c">kierunek wiatru</text>
<text x="6" y="433.3" fill="#b03030">Wierzchołek chmur</text>
<text x="6" y="449" fill="#000">Podstawa chmur*</text>
<text x="6" y="459.7" fill="#000">o pokryciu</text>
<text x="11" y="471.3" fill="#000">&gt; 7.9 okt.</text>
<text x="11" y="482.3" fill="#555">&gt; 6.5 okt.</text>
<text x="11" y="494" fill="#a0a0a0">&gt; 4.5 okt.</text>
<text x="11" y="504.7" fill="#d0d0d0">&gt; 2.5 okt.</text>
</g>
<rect x="10" y="506" width="46" height="11" fill="#5ab4ec"/>
<text x="11" y="515" class="l" fill="#fff">&gt; 0.1 okt.</text>
<text x="6" y="529.7" class="l" fill="#ff8800">Widzialność</text>
<text x="6" y="547.3" class="l" fill="#000">Chmury:</text>
<rect x="10" y="551" width="42" height="12" fill="#88ccf0"/>
<text x="11" y="560.7" class="l" fill="#fff">wysokie</text>
<text x="10" y="574" class="l" fill="#a0a0a0">średnie</text>
<text x="10" y="585.7" class="l" fill="#444">niskie</text>
<text x="10" y="597.3" class="l" fill="#222">bardzo niskie</text>
<text x="6" y="609.7" class="l" fill="#ffaa00">Mgła</text>
<text x="6" y="626.5" font-size="11.5" letter-spacing="0.5" fill="#000">Czas uniwersalny (UTC)</text>
<text x="5" y="650" font-size="8.5" font-weight="bold" fill="#000">* powyżej poziomu morza</text>

<!-- leader lines -->
<g fill="none" stroke-width="1">
<polyline stroke="#000" points="68,15 137,15 157,43"/>
<polyline stroke="#b01a1a" points="103,43 117,43 150,85"/>
<polyline stroke="#ff0000" points="90,76.7 113,76.7"/>
<polyline stroke="#ff0000" points="130,77 156,100"/>
<polyline stroke="#0000ee" points="69,98.7 136,98.7"/>
<polyline stroke="#6655dd" points="95,119.3 114,119.3 136,114"/>
<polyline stroke="#ee1111" points="102,138 145,138 146,146"/>
<polyline stroke="#e05a20" points="104,150 111,150"/>
<polyline stroke="#e05a20" stroke-dasharray="2 1" points="130,150 137,163"/>
<polyline stroke="#000" points="93,166.7 111,166.7"/>
<polyline stroke="#000" points="130,167 136,171"/>
<polyline stroke="#119911" points="70,178.3 142,178.3"/>
<polyline stroke="#119911" points="80,189.3 143,189.3"/>
<polyline stroke="#1133cc" points="70,201.7 111,201.7"/>
<polyline stroke="#1133cc" points="130,201.7 160,170"/>
<polyline stroke="#1133cc" points="80,212.3 136,212.3 158,178"/>
<polyline stroke="#ee1111" points="94,225 135,225"/>
<polyline stroke="#000" points="49,263.3 135,263.3"/>
<polyline stroke="#ee1111" points="111,334 113,334"/>
<polyline stroke="#ee1111" points="130,334 137,316"/>
<polyline stroke="#ee1111" points="105,348.3 130,348.3 142,341"/>
<polyline stroke="#1a1a8c" points="92,367.3 137,367.3"/>
<polyline stroke="#1a1a8c" points="85,409.3 137,409.3"/>
<polyline stroke="#a02828" points="100,429.3 128,429.3 182,447"/>
<polyline stroke="#000" points="57,469 135,469 192,456"/>
<polyline stroke="#555" points="57,480 143,480 143,484"/>
<polyline stroke="#aaa" points="57,490 133,490 137,497"/>
<polyline stroke="#ddd" points="57,501 133,501 137,507"/>
<polyline stroke="#88ccf0" points="56,509.3 135,509.3"/>
<polyline stroke="#88ccf0" points="56,511.7 135,511.7"/>
<polyline stroke="#ff8800" points="65,525.7 123,525.7 135,516 173,465"/>
<polyline stroke="#88ccf0" points="53,556 135,556"/>
<polyline stroke="#88ccf0" points="53,558 135,558"/>
<polyline stroke="#999" points="47,571 192,571"/>
<polyline stroke="#444" points="38,581.7 123,581.7"/>
<polyline stroke="#222" points="74,593.3 152,593.3"/>
<polyline stroke="#ffaa00" points="28,605.7 217,605.7 219,598"/>
<polyline stroke="#000" points="138,623 148,623 157,610"/>
</g>
<circle cx="137" cy="316" r="1.8" fill="#ee1111"/>
</svg>
</body></html>
